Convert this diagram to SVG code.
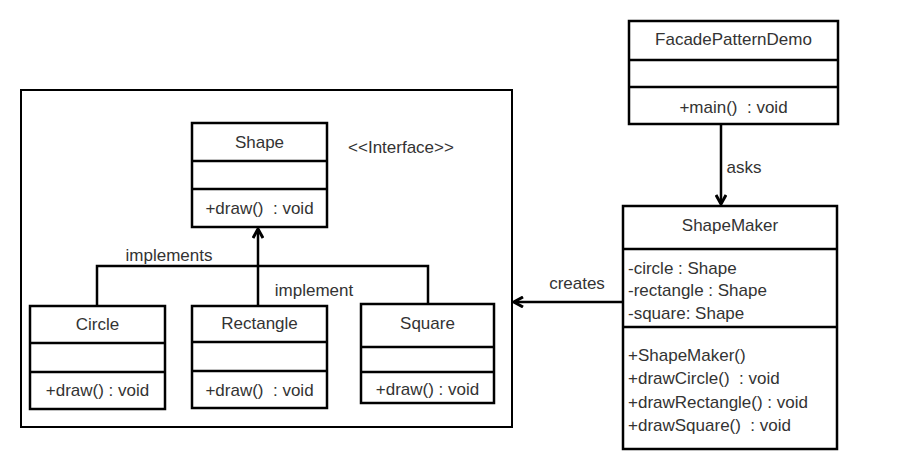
<svg xmlns="http://www.w3.org/2000/svg" width="914" height="459" viewBox="0 0 914 459">
<style>
.box{fill:#fff;stroke:#000;stroke-width:2.5}
.ln{stroke:#000;stroke-width:2.5;fill:none}
text{font-family:"Liberation Sans",Arial,sans-serif;font-size:17px;fill:#333}
.c{text-anchor:middle}
.conn{stroke:#000;stroke-width:2.5;fill:none}
</style>
<defs>
<marker id="arr" viewBox="0 0 12 12" refX="11" refY="6" markerWidth="12" markerHeight="12" markerUnits="userSpaceOnUse" orient="auto">
<path d="M2,1 L11,6 L2,11" fill="none" stroke="#000" stroke-width="3"/>
</marker>
</defs>
<rect x="0" y="0" width="914" height="459" fill="#fff"/>
<g id="package">
<rect x="21" y="90" width="491" height="337" fill="none" stroke="#000" stroke-width="2"/>
<text x="401" y="153" class="c">&lt;&lt;Interface&gt;&gt;</text>
</g>
<g id="shape">
<rect class="box" x="192" y="123" width="135" height="104"/>
<line class="ln" x1="192" y1="161" x2="327" y2="161"/>
<line class="ln" x1="192" y1="189" x2="327" y2="189"/>
<text x="259.5" y="148" class="c">Shape</text>
<text x="259.5" y="214" class="c" xml:space="preserve">+draw()  : void</text>
</g>
<g id="circle">
<rect class="box" x="30" y="306" width="135" height="103"/>
<line class="ln" x1="30" y1="343" x2="165" y2="343"/>
<line class="ln" x1="30" y1="372" x2="165" y2="372"/>
<text x="97.5" y="330" class="c">Circle</text>
<text x="97.5" y="396" class="c">+draw() : void</text>
</g>
<g id="rectangle">
<rect class="box" x="192" y="306" width="135" height="102"/>
<line class="ln" x1="192" y1="342" x2="327" y2="342"/>
<line class="ln" x1="192" y1="371" x2="327" y2="371"/>
<text x="259.5" y="329" class="c">Rectangle</text>
<text x="259.5" y="396" class="c" xml:space="preserve">+draw()  : void</text>
</g>
<g id="square">
<rect class="box" x="361" y="304" width="133" height="99"/>
<line class="ln" x1="361" y1="347" x2="494" y2="347"/>
<line class="ln" x1="361" y1="372" x2="494" y2="372"/>
<text x="427.5" y="329" class="c">Square</text>
<text x="427.5" y="395" class="c">+draw() : void</text>
</g>
<g id="facadePatternDemo">
<rect class="box" x="629" y="21" width="209" height="103"/>
<line class="ln" x1="629" y1="60" x2="838" y2="60"/>
<line class="ln" x1="629" y1="87" x2="838" y2="87"/>
<text x="733.5" y="45" class="c">FacadePatternDemo</text>
<text x="733.5" y="113" class="c" xml:space="preserve">+main()  : void</text>
</g>
<g id="shapeMaker">
<rect class="box" x="623" y="206" width="214" height="243"/>
<line class="ln" x1="623" y1="249" x2="837" y2="249"/>
<line class="ln" x1="623" y1="327" x2="837" y2="327"/>
<text x="730" y="231" class="c">ShapeMaker</text>
<text x="628" y="274">-circle : Shape</text>
<text x="628" y="296">-rectangle : Shape</text>
<text x="628" y="319">-square: Shape</text>
<text x="628" y="361">+ShapeMaker()</text>
<text x="628" y="384" xml:space="preserve">+drawCircle()  : void</text>
<text x="628" y="408">+drawRectangle() : void</text>
<text x="628" y="431" xml:space="preserve">+drawSquare()  : void</text>
</g>
<g id="connectors">
<polyline class="conn" points="97,306 97,266 428,266 428,304"/>
<line class="conn" x1="258" y1="306" x2="258" y2="229" marker-end="url(#arr)"/>
<line class="conn" x1="721" y1="124" x2="721" y2="204" marker-end="url(#arr)"/>
<line class="conn" x1="623" y1="302" x2="514" y2="302" marker-end="url(#arr)"/>
<text x="169" y="261" class="c">implements</text>
<text x="314" y="296" class="c">implement</text>
<text x="744" y="173" class="c">asks</text>
<text x="577" y="289" class="c">creates</text>
</g>
</svg>
